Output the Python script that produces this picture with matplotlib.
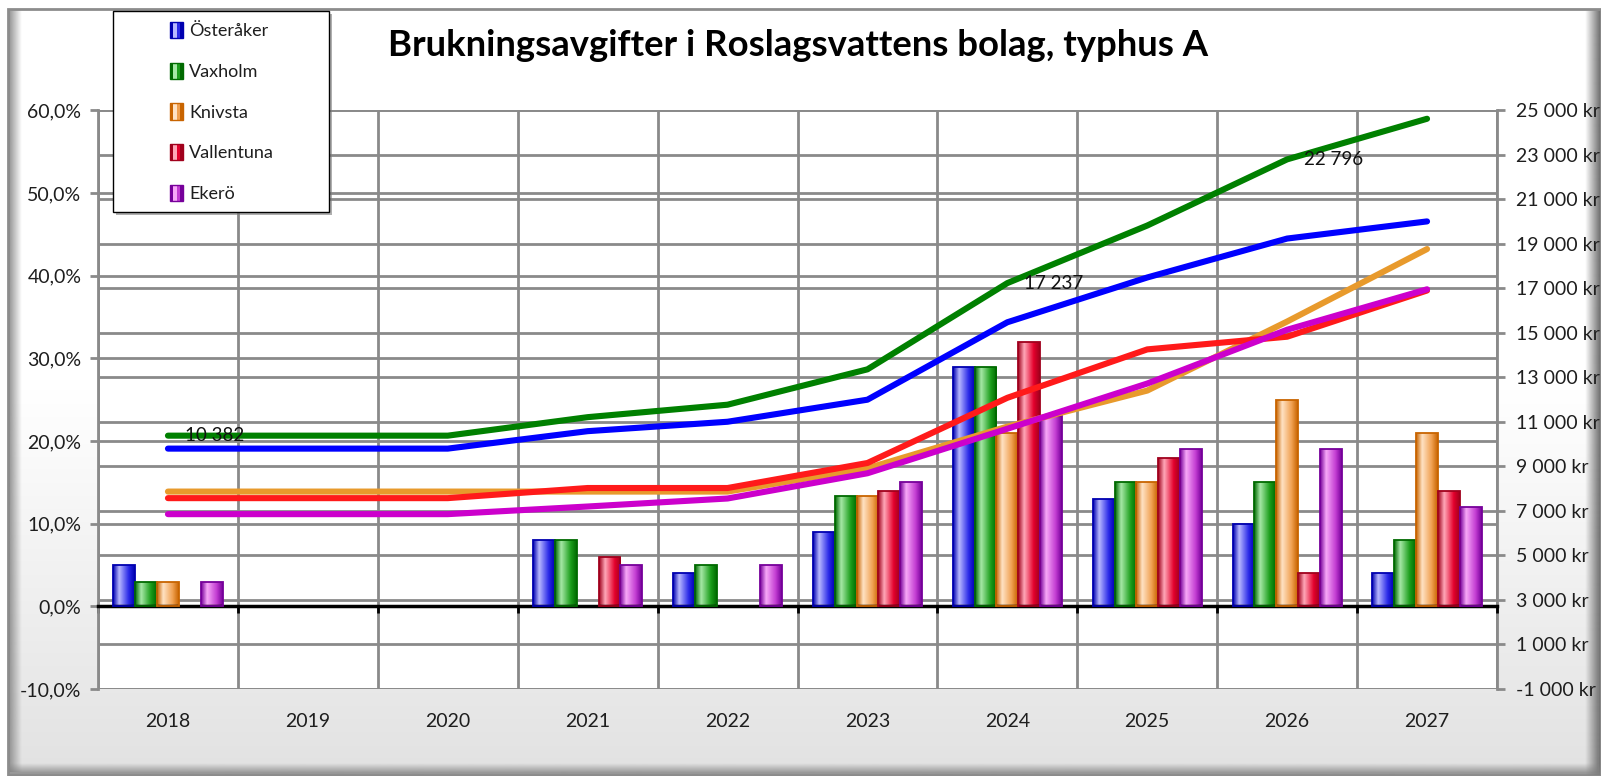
import numpy as np
import matplotlib
matplotlib.use("Agg")
import matplotlib.pyplot as plt
from matplotlib.colors import LinearSegmentedColormap, to_rgb
from matplotlib.patches import Rectangle, Patch
from matplotlib.legend_handler import HandlerBase
from matplotlib.ticker import FuncFormatter

plt.rcParams["font.family"] = ["Lato", "DejaVu Sans"]

years = ["2018", "2019", "2020", "2021", "2022", "2023", "2024", "2025", "2026", "2027"]
towns = ["Österåker", "Vaxholm", "Knivsta", "Vallentuna", "Ekerö"]

# yearly change of the fee, percent (bars, left axis)
osteraker_pct = [5, 0, 0, 8, 4, 9, 29, 13, 10, 4]
vaxholm_pct = [3, 0, 0, 8, 5, 13.3, 29, 15, 15, 8]
knivsta_pct = [3, 0, 0, 0, 0, 13.3, 21, 15, 25, 21]
vallentuna_pct = [0, 0, 0, 6, 0, 14, 32, 18, 4, 14]
ekero_pct = [3, 0, 0, 5, 5, 15, 23, 19, 19, 12]

# yearly fee, kr (lines, right axis)
osteraker_kr = [9800, 9800, 9800, 10584, 11007, 11998, 15477, 17489, 19238, 20008]
vaxholm_kr = [10382, 10382, 10382, 11213, 11773, 13362, 17237, 19823, 22796, 24620]
knivsta_kr = [7870, 7870, 7870, 7870, 7870, 8917, 10789, 12408, 15510, 18767]
vallentuna_kr = [7575, 7575, 7575, 8030, 8030, 9154, 12083, 14258, 14828, 16904]
ekero_kr = [6856, 6856, 6856, 7199, 7559, 8693, 10692, 12724, 15141, 16958]

# labelled points on the Vaxholm line
label_idx = [0, 6, 8]

pct = [osteraker_pct, vaxholm_pct, knivsta_pct, vallentuna_pct, ekero_pct]
kr = [osteraker_kr, vaxholm_kr, knivsta_kr, vallentuna_kr, ekero_kr]

# dark edge, highlight, body
bar_cols = [("#0000b0", "#b8b8ff", "#2a2ae8"),
            ("#006a00", "#a6e8a6", "#1c9e1c"),
            ("#c86400", "#ffe2c4", "#f0a050"),
            ("#a0001c", "#ffa8b8", "#e4002c"),
            ("#76009a", "#f8a8f8", "#c23cd2")]
line_cols = ["#0000ff", "#008000", "#e89a2c", "#ff1a1a", "#cc00cc"]
grid_c = "#8a8a8a"
text_c = "#1e1e1e"

W, H = 1601, 776
fig = plt.figure(figsize=(W / 100, H / 100), dpi=100)

# background with bevelled frame
bg = fig.add_axes([0, 0, 1, 1], zorder=-10)
bg.set_xlim(0, W)
bg.set_ylim(H, 0)
bg.axis("off")
vgrad = np.linspace(0, 1, 256).reshape(-1, 1)
bg.imshow(vgrad, cmap=LinearSegmentedColormap.from_list("bg", ["#ffffff", "#ffffff", "#e2e2e2"]),
          extent=(8, W - 3, H - 3, 9), aspect="auto")


def strip(x0, x1, y0, y1, color, horizontal, reverse=False):
    n = 32
    a = np.linspace(1, 0, n)
    if reverse:
        a = a[::-1]
    rgba = np.zeros((1, n, 4)) if horizontal else np.zeros((n, 1, 4))
    rgba[..., :3] = to_rgb(color)
    rgba[..., 3] = a.reshape(rgba.shape[:2])
    bg.imshow(rgba, extent=(x0, x1, y1, y0), aspect="auto", interpolation="bilinear")


strip(8, 22, 9, H - 4, "#8c8c8c", True)
strip(W - 16, W, 9, H, "#6a6a6a", True, reverse=True)
strip(8, W, H - 13, H, "#808080", False, reverse=True)
bg.add_patch(Rectangle((8, 9), W - 8, H - 9, fill=False, ec="#8c8c8c", lw=2))

# plot area
left, right, top, bottom = 98, 1497, 110.3, 689
pos = [left / W, 1 - bottom / H, (right - left) / W, (bottom - top) / H]
ax = fig.add_axes(pos)
ax_kr = ax.twinx()
ax_line = ax.twinx()
ax_line.sharey(ax_kr)
ax_kr.set_zorder(1)
ax.set_zorder(2)
ax_line.set_zorder(3)
ax.patch.set_visible(False)
ax_line.patch.set_visible(False)
ax_kr.patch.set_visible(True)
ax_kr.patch.set_facecolor("white")

x = np.arange(len(years))
bw = 0.156
grad = np.linspace(0, 1, 64).reshape(1, -1)
for i, (vals, cols) in enumerate(zip(pct, bar_cols)):
    dark, light, mid = cols
    cmap = LinearSegmentedColormap.from_list(
        "b%d" % i, [(0, dark), (0.28, light), (0.72, mid), (1, dark)])
    bars = ax.bar(x + (i - 2) * bw, vals, bw, facecolor="none", edgecolor=dark,
                  lw=1.3, zorder=3, label=towns[i])
    for r in bars:
        if r.get_height() <= 0:
            r.set_visible(False)
            continue
        im = ax.imshow(grad, cmap=cmap, extent=(r.get_x(), r.get_x() + r.get_width(), 0, r.get_height()),
                       aspect="auto", interpolation="bilinear", zorder=2.5)
        im.set_clip_path(r)

for vals, c in zip(kr, line_cols):
    ax_line.plot(x, vals, color=c, lw=4.4, solid_capstyle="round", solid_joinstyle="round")
for j in label_idx:
    ax_line.annotate(f"{vaxholm_kr[j]:,}".replace(",", " "), (x[j], vaxholm_kr[j]),
                     xytext=(17, 0), textcoords="offset pixels", ha="left", va="center",
                     fontsize=13.5, color="#111111")

# left axis
ax.set_xlim(-0.5, len(years) - 0.5)
ax.set_ylim(-10, 60)
ax.set_yticks(np.arange(-10, 61, 10))
ax.yaxis.set_major_formatter(FuncFormatter(lambda v, p: f"{v:.1f}%".replace(".", ",")))
ax.set_xticks(np.arange(-0.5, len(years), 1))
ax.set_axisbelow(True)
ax.grid(True, color=grid_c, lw=2)
ax.tick_params(axis="y", direction="out", length=6, width=2, color=grid_c,
               labelsize=14, labelcolor=text_c, pad=6)
ax.tick_params(axis="x", direction="out", length=5, width=2, color="black", labelbottom=False)
ax.spines["bottom"].set_position(("data", 0))
ax.spines["bottom"].set_color("black")
ax.spines["bottom"].set_linewidth(2.5)
ax.spines["left"].set_color(grid_c)
ax.spines["left"].set_linewidth(2)
for s in ["top", "right"]:
    ax.spines[s].set_visible(False)

sec = ax.secondary_xaxis("bottom")
sec.set_xticks(x, years)
sec.tick_params(length=0, pad=17, labelsize=14, labelcolor=text_c)
sec.spines["bottom"].set_visible(False)

# right axis
ax_kr.set_ylim(-1000, 25000)
ax_kr.set_yticks(np.arange(-1000, 25001, 2000))
ax_kr.yaxis.set_major_formatter(FuncFormatter(lambda v, p: f"{int(v):,} kr".replace(",", " ")))
ax_kr.grid(axis="y", color=grid_c, lw=2)
ax_kr.tick_params(axis="y", direction="out", length=6, width=2, color=grid_c,
                  labelsize=14, labelcolor=text_c, pad=8)
ax_kr.tick_params(axis="x", which="both", bottom=False, labelbottom=False)
for s in ["top", "left", "bottom"]:
    ax_kr.spines[s].set_visible(False)
ax_kr.spines["right"].set_color(grid_c)
ax_kr.spines["right"].set_linewidth(2)
ax_line.axis("off")

fig.text(798 / W, 1 - 46 / H, "Brukningsavgifter i Roslagsvattens bolag, typhus A",
         ha="center", va="center", fontsize=26.3, fontweight="bold", color="black")


# legend
class GradientBox(HandlerBase):
    def __init__(self, cols):
        super().__init__()
        self.cols = cols

    def create_artists(self, legend, orig_handle, xdescent, ydescent, width, height, fontsize, trans):
        dark, light, mid = self.cols
        parts = []
        for a, b, c in [(0, 0.22, dark), (0.22, 0.5, light), (0.5, 0.8, mid), (0.8, 1, dark)]:
            parts.append(Rectangle((-xdescent + a * width, -ydescent), (b - a) * width, height,
                                   fc=c, ec="none", transform=trans))
        parts.append(Rectangle((-xdescent, -ydescent), width, height, fill=False,
                               ec=dark, lw=1, transform=trans))
        return parts


handles = [Patch(label=t) for t in towns]
fig.add_artist(Rectangle((116 / W, 1 - 215 / H), 216 / W, 201 / H, transform=fig.transFigure,
                         fc="#7a7a7a", ec="none", alpha=0.6, zorder=9))
fig.add_artist(Rectangle((113 / W, 1 - 212 / H), 216 / W, 201 / H, transform=fig.transFigure,
                         fc="white", ec="black", lw=1, zorder=10))
leg = fig.legend(handles=handles, labels=towns, loc="upper left",
                 bbox_to_anchor=(170 / W, 1 - 22 / H), frameon=False,
                 handler_map={h: GradientBox(c) for h, c in zip(handles, bar_cols)},
                 fontsize=13, labelspacing=1.3, handlelength=0.72, handleheight=1.0,
                 handletextpad=0.35, borderpad=0, borderaxespad=0, labelcolor=text_c)
leg.set_zorder(11)

fig.savefig("out.png", dpi=100)
